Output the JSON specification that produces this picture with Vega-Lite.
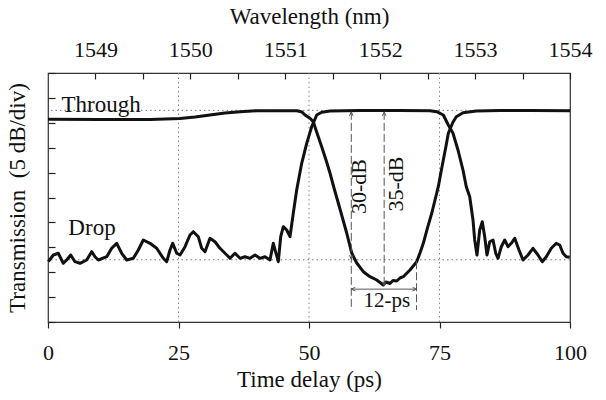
{
 "$schema":"https://vega.github.io/schema/vega-lite/v6.json",
 "width":522,"height":249,
 "autosize":{"type":"none"},
 "padding":{"left":48,"top":73,"right":36,"bottom":78},
 "background":"white",
 "config":{
   "view":{"stroke":"#333","strokeWidth":1.2},
   "font":"Liberation Serif",
   "axis":{"labelFont":"Liberation Serif","titleFont":"Liberation Serif","labelColor":"#111","titleColor":"#111","titleFontWeight":"normal","tickColor":"#222","tickWidth":1.2,"domain":false,"grid":false}
 },
 "datasets":{
  "through":[
   {"t":0,"db":40.7},{"t":9.96,"db":40.66},{"t":19.54,"db":40.66},{"t":25.29,"db":40.86},{"t":28.16,"db":41.16},{"t":31.03,"db":41.57},{"t":33.91,"db":41.97},{"t":36.78,"db":42.23},{"t":40.04,"db":42.43},{"t":44.44,"db":42.43},{"t":47.7,"db":42.43},{"t":48.66,"db":42.17},{"t":49.23,"db":41.57},{"t":50.19,"db":40.9},{"t":50.82,"db":40.22},{"t":51.53,"db":37.95},{"t":52.43,"db":35.2},{"t":53.26,"db":32.53},{"t":54.02,"db":29.92},{"t":54.79,"db":26.91},{"t":55.61,"db":23.9},{"t":56.42,"db":20.88},{"t":57.22,"db":17.87},{"t":58.18,"db":13.86},{"t":59.14,"db":11.85},{"t":60.4,"db":10.1},{"t":61.69,"db":9.1},{"t":62.97,"db":8.43},{"t":63.6,"db":7.93},{"t":64.23,"db":7.43},{"t":64.75,"db":8.03},{"t":65.52,"db":7.73},{"t":66.09,"db":8.33},{"t":66.8,"db":8.23},{"t":67.43,"db":8.84},{"t":68.07,"db":9.1},{"t":68.58,"db":9.64},{"t":69.35,"db":10.44},{"t":70.63,"db":12.11},{"t":71.26,"db":13.86},{"t":71.9,"db":15.8},{"t":72.7,"db":18.88},{"t":73.51,"db":21.83},{"t":74.14,"db":24.5},{"t":74.77,"db":27.17},{"t":75.29,"db":30.12},{"t":75.73,"db":32.53},{"t":76.25,"db":35.34},{"t":76.69,"db":37.89},{"t":76.95,"db":38.55},{"t":77.59,"db":40.16},{"t":78.22,"db":41.22},{"t":79.5,"db":42.03},{"t":82.05,"db":42.37},{"t":86.59,"db":42.47},{"t":92.34,"db":42.47},{"t":100,"db":42.43}
  ],
  "drop":[
   {"t":0.06,"db":12.11},{"t":1.02,"db":13.45},{"t":1.97,"db":13.8},{"t":2.93,"db":11.79},{"t":3.58,"db":12.45},{"t":4.35,"db":13.45},{"t":5.17,"db":12.11},{"t":6.13,"db":11.79},{"t":7.41,"db":12.45},{"t":8.37,"db":14.12},{"t":9.0,"db":13.11},{"t":9.64,"db":12.45},{"t":11.25,"db":13.11},{"t":12.2,"db":14.8},{"t":13.16,"db":15.8},{"t":14.12,"db":13.8},{"t":15.08,"db":12.45},{"t":16.34,"db":12.79},{"t":17.3,"db":14.46},{"t":18.26,"db":16.47},{"t":19.54,"db":15.8},{"t":20.82,"db":14.8},{"t":22.09,"db":12.79},{"t":22.74,"db":12.11},{"t":23.37,"db":14.46},{"t":23.89,"db":15.8},{"t":24.66,"db":13.8},{"t":25.29,"db":13.45},{"t":26.25,"db":15.12},{"t":27.2,"db":17.47},{"t":27.84,"db":18.13},{"t":28.79,"db":17.13},{"t":29.44,"db":14.8},{"t":30.08,"db":14.12},{"t":31.03,"db":16.81},{"t":31.99,"db":16.12},{"t":32.95,"db":14.8},{"t":33.91,"db":13.8},{"t":34.87,"db":12.79},{"t":35.82,"db":13.8},{"t":36.78,"db":12.79},{"t":37.74,"db":13.11},{"t":38.7,"db":12.79},{"t":39.66,"db":13.45},{"t":40.61,"db":12.79},{"t":41.57,"db":13.11},{"t":42.53,"db":12.45},{"t":43.16,"db":15.8},{"t":43.68,"db":13.8},{"t":44.12,"db":12.11},{"t":44.58,"db":17.13},{"t":45.08,"db":19.14},{"t":45.73,"db":18.47},{"t":46.36,"db":17.13},{"t":46.99,"db":21.83},{"t":47.64,"db":26.51},{"t":48.6,"db":31.87},{"t":49.56,"db":35.88},{"t":50.52,"db":39.22},{"t":51.48,"db":41.57},{"t":52.43,"db":42.11},{"t":54.02,"db":42.37},{"t":59.77,"db":42.47},{"t":67.43,"db":42.47},{"t":73.18,"db":42.43},{"t":74.46,"db":42.23},{"t":75.73,"db":41.57},{"t":76.69,"db":39.56},{"t":77.59,"db":37.89},{"t":78.54,"db":34.54},{"t":79.5,"db":30.52},{"t":80.13,"db":27.17},{"t":80.79,"db":25.16},{"t":81.42,"db":20.48},{"t":81.74,"db":16.47},{"t":82.18,"db":13.45},{"t":82.7,"db":18.47},{"t":83.2,"db":20.14},{"t":83.66,"db":17.13},{"t":84.1,"db":13.45},{"t":84.62,"db":16.12},{"t":85.25,"db":16.47},{"t":85.77,"db":13.8},{"t":86.21,"db":12.79},{"t":86.84,"db":15.12},{"t":87.49,"db":16.47},{"t":88.12,"db":15.12},{"t":88.76,"db":15.8},{"t":89.41,"db":16.81},{"t":90.23,"db":14.46},{"t":91.0,"db":12.45},{"t":91.95,"db":13.45},{"t":92.91,"db":14.8},{"t":93.87,"db":13.45},{"t":94.69,"db":12.11},{"t":95.46,"db":13.11},{"t":96.42,"db":14.8},{"t":97.37,"db":15.8},{"t":98.03,"db":15.46},{"t":98.66,"db":13.8},{"t":99.29,"db":13.11},{"t":99.94,"db":12.99}
  ],
  "levels":[{"level":42.5},{"level":12.5}],
  "grid":[{"g":25},{"g":50},{"g":75}],
  "vlines":[{"t":58.1,"y1":42.2,"y2":2.4},{"t":64.4,"y1":42.2,"y2":7.2},{"t":70.6,"y1":12.2,"y2":2.4}],
  "hline":[{"t1":58.1,"t2":70.6,"db":6.6}],
  "heads":[{"t":58.1,"db":42.2,"dir":"up"},{"t":58.1,"db":12.6,"dir":"down"},{"t":64.4,"db":42.2,"dir":"up"},{"t":64.4,"db":7.3,"dir":"down"},{"t":58.1,"db":6.6,"dir":"left"},{"t":70.6,"db":6.6,"dir":"right"}],
  "names":[{"t":2.6,"db":42.1,"label":"Through"},{"t":3.9,"db":17.5,"label":"Drop"}],
  "dblabels":[{"t":59.6,"db":27.2,"label":"30-dB"},{"t":66.6,"db":27.7,"label":"35-dB"}],
  "pslabel":[{"t":64.9,"db":4.2,"label":"12-ps"}]
 },
 "resolve":{"axis":{"x":"independent","y":"independent"}},
 "layer":[
  {"data":{"name":"levels"},
   "mark":{"type":"rule","color":"#777","strokeWidth":1,"strokeDash":[1.5,3]},
   "encoding":{
    "y":{"field":"level","type":"quantitative","scale":{"domain":[0,50],"nice":false},
         "axis":{"orient":"left","offset":-7,"values":[0,5,10,15,20,25,30,35,40,45,50],"labels":false,"tickSize":7,"title":"Transmission\u00a0\u00a0(5 dB/div)","titleFontSize":23,"titlePadding":18}}
   }
  },
  {"data":{"name":"grid"},
   "mark":{"type":"rule","color":"#888","strokeWidth":1,"strokeDash":[1.5,3]},
   "encoding":{
    "x":{"field":"g","type":"quantitative","scale":{"domain":[0,100],"nice":false},
         "axis":{"orient":"bottom","values":[0,25,50,75,100],"format":"d","tickSize":6,"labelFontSize":22,"labelPadding":14,"labelFlush":false,"labelOverlap":false,"title":"Time delay (ps)","titleFontSize":23,"titlePadding":5}}
   }
  },
  {"data":{"name":"through"},
   "mark":{"type":"line","color":"#111","strokeWidth":3,"strokeJoin":"round"},
   "encoding":{
    "x":{"field":"t","type":"quantitative","axis":null},
    "y":{"field":"db","type":"quantitative","axis":null}
   }
  },
  {"data":{"name":"drop"},
   "mark":{"type":"line","color":"#111","strokeWidth":3,"strokeJoin":"round"},
   "encoding":{
    "x":{"field":"t","type":"quantitative",
         "axis":{"orient":"top","offset":-6,"values":[9.0909,18.1818,27.2727,36.3636,45.4545,54.5455,63.6364,72.7273,81.8182,90.9091,100],
                 "labelExpr":"abs(1548.5 + datum.value*0.055 - round(1548.5 + datum.value*0.055)) < 0.01 ? format(round(1548.5 + datum.value*0.055), 'd') : ''",
                 "tickSize":6,"labelFontSize":22,"labelPadding":12,"labelFlush":false,"labelOverlap":false,"title":"Wavelength (nm)","titleFontSize":23,"titlePadding":10}},
    "y":{"field":"db","type":"quantitative","axis":null}
   }
  },
  {"data":{"name":"vlines"},
   "mark":{"type":"rule","color":"#555","strokeWidth":1,"strokeDash":[8,3]},
   "encoding":{
    "x":{"field":"t","type":"quantitative","axis":null},
    "y":{"field":"y1","type":"quantitative","axis":null},
    "y2":{"field":"y2"}
   }
  },
  {"data":{"name":"hline"},
   "mark":{"type":"rule","color":"#555","strokeWidth":1},
   "encoding":{
    "x":{"field":"t1","type":"quantitative","axis":null},
    "x2":{"field":"t2"},
    "y":{"field":"db","type":"quantitative","axis":null}
   }
  },
  {"data":{"name":"heads"},
   "mark":{"type":"point","filled":false,"color":"#555","strokeWidth":1,"size":64,"opacity":1},
   "encoding":{
    "x":{"field":"t","type":"quantitative","axis":null},
    "y":{"field":"db","type":"quantitative","axis":null},
    "shape":{"field":"dir","type":"nominal","legend":null,
             "scale":{"domain":["up","down","left","right"],"range":["M-0.45,1L0,0L0.45,1","M-0.45,-1L0,0L0.45,-1","M1,-0.45L0,0L1,0.45","M-1,-0.45L0,0L-1,0.45"]}}
   }
  },
  {"data":{"name":"names"},
   "mark":{"type":"text","align":"left","baseline":"alphabetic","fontSize":23,"color":"#111","font":"Liberation Serif"},
   "encoding":{
    "x":{"field":"t","type":"quantitative","axis":null},
    "y":{"field":"db","type":"quantitative","axis":null},
    "text":{"field":"label"}
   }
  },
  {"data":{"name":"dblabels"},
   "mark":{"type":"text","align":"center","baseline":"middle","angle":270,"fontSize":22,"color":"#111","font":"Liberation Serif"},
   "encoding":{
    "x":{"field":"t","type":"quantitative","axis":null},
    "y":{"field":"db","type":"quantitative","axis":null},
    "text":{"field":"label"}
   }
  },
  {"data":{"name":"pslabel"},
   "mark":{"type":"text","align":"center","baseline":"middle","fontSize":21,"color":"#111","font":"Liberation Serif"},
   "encoding":{
    "x":{"field":"t","type":"quantitative","axis":null},
    "y":{"field":"db","type":"quantitative","axis":null},
    "text":{"field":"label"}
   }
  }
 ]
}
